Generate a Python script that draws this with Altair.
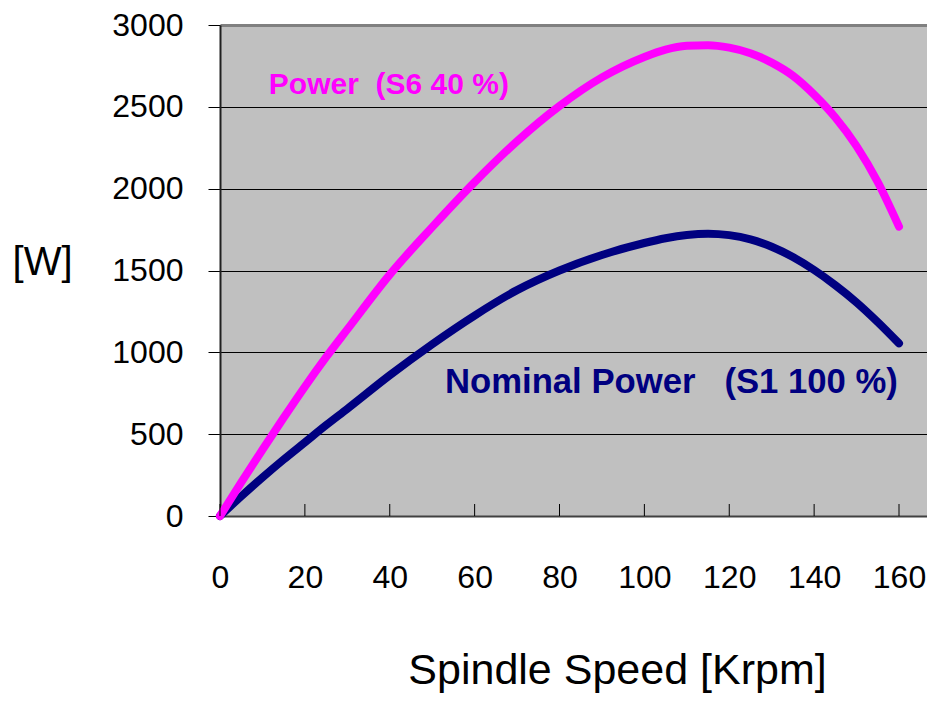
import altair as alt
import pandas as pd

# ---- data ----
speed = [0, 5, 10, 15, 20, 25, 30, 40, 50, 60, 70, 80, 90, 100, 105, 110,
         115, 120, 125, 130, 135, 140, 145, 150, 155, 160]
power_s6 = [0, 205, 405, 600, 790, 970, 1140, 1475, 1765, 2040, 2290, 2505,
            2680, 2805, 2850, 2873, 2877, 2862, 2828, 2770, 2690, 2575, 2435,
            2260, 2040, 1768]
power_s1 = [0, 120, 235, 345, 450, 555, 655, 860, 1050, 1225, 1380, 1500,
            1595, 1668, 1697, 1717, 1725, 1716, 1690, 1645, 1582, 1503, 1410,
            1305, 1185, 1055]

series_names = ["Power (S6 40%)", "Nominal Power (S1 100%)"]
series_colors = ["#FF00FF", "#000080"]

x_ticks = [0, 20, 40, 60, 80, 100, 120, 140, 160]
y_ticks = [0, 500, 1000, 1500, 2000, 2500, 3000]

NB = "\u00a0"
label_text = ["Power" + NB * 2 + "(S6" + NB + "40" + NB + "%)",
              "Nominal" + NB + "Power" + NB * 3 + "(S1" + NB + "100" + NB + "%)"]
label_x = [11.5, 53.0]
label_y = [2579, 750]
label_size = [30, 34.7]

FONT = "Liberation Sans"
PLOT_W = 707
PLOT_H = 491
PX_PER_UNIT = 679 / 160

df_s6 = pd.DataFrame({"speed": speed, "power": power_s6, "series": series_names[0]})
df_s1 = pd.DataFrame({"speed": speed, "power": power_s1, "series": series_names[1]})

labels = pd.DataFrame({"text": label_text, "x": label_x, "y": label_y,
                       "series": series_names, "size": label_size})
ticks = pd.DataFrame({"t": x_ticks})

xscale = alt.Scale(domain=[0, PLOT_W / PX_PER_UNIT], nice=False, zero=False)
yscale = alt.Scale(domain=[0, 3000], nice=False)
cscale = alt.Scale(domain=series_names, range=series_colors)

xaxis = alt.Axis(values=x_ticks, title="Spindle Speed [Krpm]", format="d",
                 ticks=False, grid=False, labelPadding=61,
                 labelBaseline="middle", labelFontSize=32,
                 labelFlush=False, labelOverlap=False, labelBound=False,
                 labelFont=FONT, labelColor="black",
                 domainColor="#404040", domainWidth=2,
                 titleFont=FONT, titleFontSize=43,
                 titleFontWeight="normal", titleColor="black",
                 titleX=397, titleY=167, titleBaseline="alphabetic",
                 titleAlign="center")
yaxis = alt.Axis(values=y_ticks, title="[W]", format="d", tickSize=12,
                 tickColor="black", tickWidth=1,
                 labelPadding=25, labelFontSize=32, labelFont=FONT,
                 labelColor="black", labelFlush=False, labelOverlap=False,
                 labelBound=False,
                 domainColor="#202020", domainWidth=2,
                 grid=True,
                 gridColor={"condition": {"test": "datum.value === 3000",
                                          "value": "#808080"},
                            "value": "#000000"},
                 gridWidth={"condition": {"test": "datum.value === 3000",
                                          "value": 3},
                            "value": 1},
                 titleAngle=0, titleFont=FONT, titleFontSize=40,
                 titleFontWeight="normal", titleColor="black",
                 titleX=-178, titleY=237, titleAlign="center",
                 titleBaseline="middle")


def line_layer(d):
    return alt.Chart(d).mark_line(
        strokeWidth=8, strokeCap="round", strokeJoin="round",
        interpolate="monotone"
    ).encode(
        x=alt.X("speed:Q", scale=xscale, axis=xaxis),
        y=alt.Y("power:Q", scale=yscale, axis=yaxis),
        color=alt.Color("series:N", scale=cscale, legend=None),
        order=alt.Order("speed:Q"),
    )


tick_marks = alt.Chart(ticks).mark_rule(color="black", strokeWidth=1).encode(
    x=alt.X("t:Q", scale=xscale, axis=xaxis),
    y=alt.value(PLOT_H),
    y2=alt.value(PLOT_H - 12),
)

texts = alt.Chart(labels).mark_text(
    align="left", baseline="alphabetic", font=FONT, fontWeight="bold"
).encode(
    x=alt.X("x:Q", scale=xscale, axis=xaxis),
    y=alt.Y("y:Q", scale=yscale, axis=yaxis),
    text="text:N",
    color=alt.Color("series:N", scale=cscale, legend=None),
    size=alt.Size("size:Q", scale=None, legend=None),
)

chart = alt.layer(line_layer(df_s1), line_layer(df_s6), tick_marks, texts).properties(
    width=PLOT_W,
    height=PLOT_H,
    padding={"left": 212, "top": 17, "right": 0, "bottom": 177},
    autosize=alt.AutoSizeParams(type="none"),
    background="white",
).configure_view(fill="#C0C0C0", strokeWidth=0)

chart.save("out.html", embed_options={"renderer": "svg", "actions": False})
